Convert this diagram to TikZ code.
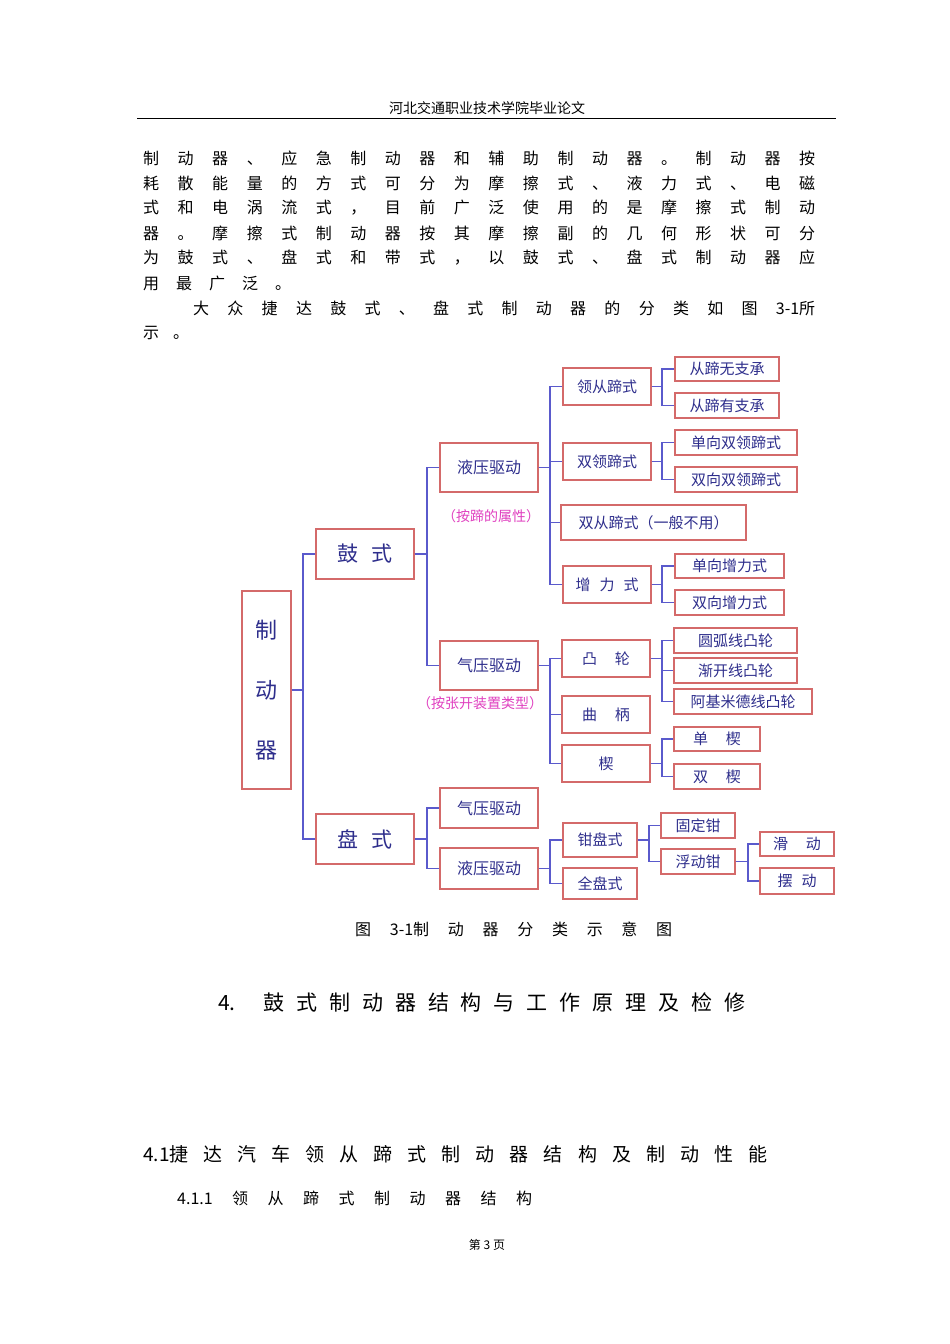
\documentclass[tikz,border=0pt]{standalone}
\usepackage{fontspec}
\setmainfont{Noto Sans CJK SC}
\newfontfamily\cjk{Noto Sans CJK SC}
\definecolor{boxred}{HTML}{D46A6A}
\definecolor{linebl}{HTML}{5A5ACC}
\definecolor{txtbl}{HTML}{2E2E8C}
\definecolor{pinkc}{HTML}{E040C0}
\newcommand{\sline}[4]{\node[anchor=west,inner sep=0,font=\fontsize{#4}{#4}\selectfont] at (#1) {\makebox[#2pt][s]{#3}};}
\begin{document}
\begin{tikzpicture}[x=1pt,y=-1pt,
  bx/.style={draw=boxred,line width=1.1pt,fill=white,text=txtbl,inner sep=0,font=\fontsize{15}{15}\selectfont},
  conn/.style={draw=linebl,line width=1.1pt}]
\useasboundingbox (0,0) rectangle (950,1344);
\fill[white] (0,0) rectangle (950,1344);
% header
\node[font=\fontsize{14}{14}\selectfont] (hdr) at (487,108) {河北交通职业技术学院毕业论文};
\draw[line width=0.8pt] (137,118) -- (836,118);
% body
\sline{143,158}{672}{制 动 器 、 应 急 制 动 器 和 辅 助 制 动 器 。 制 动 器 按}{16}
\sline{143,183}{672}{耗 散 能 量 的 方 式 可 分 为 摩 擦 式 、 液 力 式 、 电 磁}{16}
\sline{143,208}{672}{式 和 电 涡 流 式 ， 目 前 广 泛 使 用 的 是 摩 擦 式 制 动}{16}
\sline{143,233}{672}{器 。 摩 擦 式 制 动 器 按 其 摩 擦 副 的 几 何 形 状 可 分}{16}
\sline{143,258}{672}{为 鼓 式 、 盘 式 和 带 式 ， 以 鼓 式 、 盘 式 制 动 器 应}{16}
\sline{143,283}{148}{用 最 广 泛 。}{16}
\sline{193,308}{622}{大 众 捷 达 鼓 式 、 盘 式 制 动 器 的 分 类 如 图 3-1所}{16}
\sline{143,333}{46}{示 。}{16}
% tree boxes
\node[bx,minimum width=49,minimum height=198,font=\fontsize{22}{22}\selectfont,align=center] (zdq) at (266.5,690) {制\\[38pt]动\\[38pt]器};
\node[bx,minimum width=98,minimum height=50,font=\fontsize{21}{21}\selectfont] (gu) at (365,554) {鼓\hspace{0.6em}式};
\node[bx,minimum width=98,minimum height=50,font=\fontsize{21}{21}\selectfont] (pan) at (365,839) {盘\hspace{0.6em}式};
\node[bx,minimum width=98,minimum height=49,font=\fontsize{16}{16}\selectfont] (yy1) at (489,467.5) {液压驱动};
\node[bx,minimum width=98,minimum height=49,font=\fontsize{16}{16}\selectfont] (qy1) at (489,665.5) {气压驱动};
\node[bx,minimum width=98,minimum height=40,font=\fontsize{16}{16}\selectfont] (qy2) at (489,808) {气压驱动};
\node[bx,minimum width=98,minimum height=41,font=\fontsize{16}{16}\selectfont] (yy2) at (489,868.5) {液压驱动};
\node[bx,minimum width=88,minimum height=37] (lc) at (607,386.5) {领从蹄式};
\node[bx,minimum width=88,minimum height=37] (sl) at (607,461.5) {双领蹄式};
\node[bx,minimum width=185,minimum height=35] (sc) at (653.5,522.5) {双从蹄式（一般不用）};
\node[bx,minimum width=88,minimum height=37] (zl) at (607,584.5) {增\hspace{0.6em}力\hspace{0.6em}式};
\node[bx,minimum width=104,minimum height=24] (a1) at (727,369) {从蹄无支承};
\node[bx,minimum width=104,minimum height=25] (a2) at (727,405.5) {从蹄有支承};
\node[bx,minimum width=122,minimum height=25] (b1) at (736,442.5) {单向双领蹄式};
\node[bx,minimum width=122,minimum height=25] (b2) at (736,479.5) {双向双领蹄式};
\node[bx,minimum width=109,minimum height=24] (c1) at (729.5,566) {单向增力式};
\node[bx,minimum width=109,minimum height=25] (c2) at (729.5,602.5) {双向增力式};
\node[bx,minimum width=88,minimum height=37] (tl) at (606,658.5) {凸\hspace{1.2em}轮};
\node[bx,minimum width=88,minimum height=37] (qb) at (606,714.5) {曲\hspace{1.2em}柄};
\node[bx,minimum width=88,minimum height=37] (xie) at (606,763.5) {楔};
\node[bx,minimum width=123,minimum height=25] (d1) at (735.5,640.5) {圆弧线凸轮};
\node[bx,minimum width=123,minimum height=25] (d2) at (735.5,670.5) {渐开线凸轮};
\node[bx,minimum width=138,minimum height=25] (d3) at (743,701.5) {阿基米德线凸轮};
\node[bx,minimum width=86,minimum height=24] (e1) at (717,739) {单\hspace{1.2em}楔};
\node[bx,minimum width=86,minimum height=25] (e2) at (717,776.5) {双\hspace{1.2em}楔};
\node[bx,minimum width=74,minimum height=34] (qp) at (600,840) {钳盘式};
\node[bx,minimum width=74,minimum height=31] (qpa) at (600,883.5) {全盘式};
\node[bx,minimum width=74,minimum height=25] (gd) at (698,825.5) {固定钳};
\node[bx,minimum width=74,minimum height=25] (fd) at (698,861.5) {浮动钳};
\node[bx,minimum width=74,minimum height=24] (hd) at (797,844) {滑\hspace{1.2em}动};
\node[bx,minimum width=74,minimum height=26] (bd) at (797,881) {摆\hspace{0.6em}动};
\node[text=pinkc,font=\fontsize{14}{14}\selectfont,inner sep=0] (lab1) at (491,516) {（按蹄的属性）};
\node[text=pinkc,font=\fontsize{14}{14}\selectfont,inner sep=0] (lab2) at (480,703) {（按张开装置类型）};
% connectors
\newcommand{\tree}[3]{\foreach \c in {#3} {\draw[conn] (#1.east) -| (#2,0 |- #1.east) |- (\c.west);}}
\tree{zdq}{303}{gu,pan}
\tree{gu}{427}{yy1,qy1}
\tree{yy1}{550}{lc,sl,sc,zl}
\tree{lc}{662}{a1,a2}
\tree{sl}{662}{b1,b2}
\tree{zl}{662}{c1,c2}
\tree{qy1}{550}{tl,qb,xie}
\tree{tl}{662}{d1,d2,d3}
\tree{xie}{662}{e1,e2}
\tree{pan}{427}{qy2,yy2}
\tree{yy2}{550}{qp,qpa}
\tree{qp}{649}{gd,fd}
\tree{fd}{748}{hd,bd}
% caption and headings
\sline{355,929}{317}{图 3-1制 动 器 分 类 示 意 图}{16}
\sline{218,1002}{527}{4. 鼓 式 制 动 器 结 构 与 工 作 原 理 及 检 修}{21}
\sline{143,1154}{624}{4.1捷 达 汽 车 领 从 蹄 式 制 动 器 结 构 及 制 动 性 能}{19}
\sline{177,1198}{355}{4.1.1 领 从 蹄 式 制 动 器 结 构}{16}
\node[font=\fontsize{12}{12}\selectfont] (ftr) at (487,1245) {第 3 页};
\end{tikzpicture}
\end{document}
